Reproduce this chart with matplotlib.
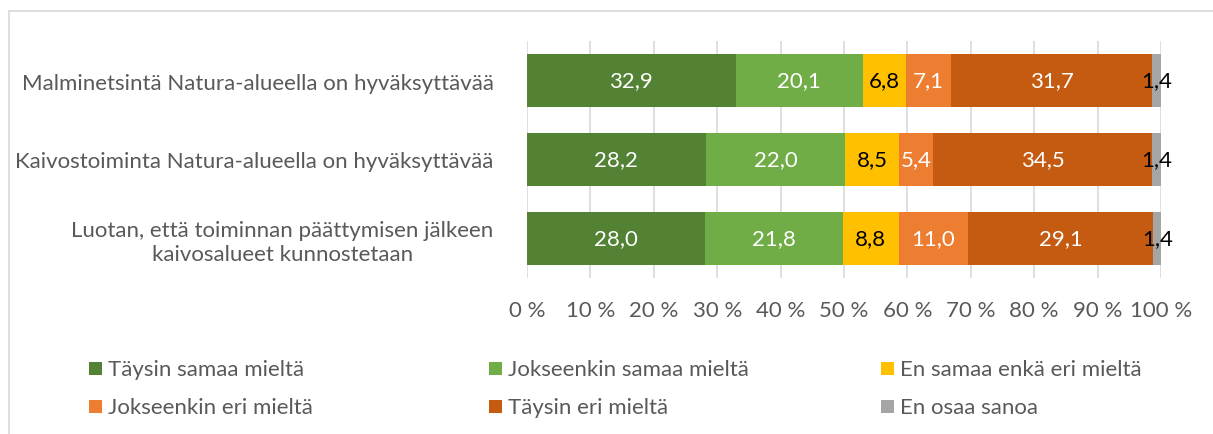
import numpy as np
import matplotlib.pyplot as plt
from matplotlib.patches import Rectangle

plt.rcParams['font.family'] = ['Lato', 'DejaVu Sans']

# statements (top to bottom)
categories = [
    'Malminetsintä Natura-alueella on hyväksyttävää',
    'Kaivostoiminta Natura-alueella on hyväksyttävää',
    'Luotan, että toiminnan päättymisen jälkeen\nkaivosalueet kunnostetaan',
]
series = [
    'Täysin samaa mieltä',
    'Jokseenkin samaa mieltä',
    'En samaa enkä eri mieltä',
    'Jokseenkin eri mieltä',
    'Täysin eri mieltä',
    'En osaa sanoa',
]
taysin_samaa = [32.9, 28.2, 28.0]
jokseenkin_samaa = [20.1, 22.0, 21.8]
ei_samaa_eika_eri = [6.8, 8.5, 8.8]
jokseenkin_eri = [7.1, 5.4, 11.0]
taysin_eri = [31.7, 34.5, 29.1]
en_osaa = [1.4, 1.4, 1.4]
values = [taysin_samaa, jokseenkin_samaa, ei_samaa_eika_eri,
          jokseenkin_eri, taysin_eri, en_osaa]
xticks = [0, 10, 20, 30, 40, 50, 60, 70, 80, 90, 100]

colors = ['#548235', '#70AD47', '#FFC000', '#ED7D31', '#C55A11', '#A5A5A5']
label_colors = ['white', 'white', 'black', 'white', 'white', 'black']
grey = '#595959'
fs = 16

W, H = 1213, 435
fig = plt.figure(figsize=(W / 100, H / 100), dpi=100)

def fx(px):
    return px / W

def fy(py):
    return 1 - py / H

ax = fig.add_axes([fx(527), fy(279), fx(1161) - fx(527), fy(42) - fy(279)])

y = np.arange(len(categories))
left = np.zeros(len(categories))
for vals, col, lcol in zip(values, colors, label_colors):
    vals = np.array(vals)
    ax.barh(y, vals, left=left, height=0.66, color=col, zorder=2)
    for yi, (l, v) in enumerate(zip(left, vals)):
        ax.text(l + v / 2, yi, f'{v:.1f}'.replace('.', ','), ha='center',
                va='center', color=lcol, fontsize=fs, zorder=3)
    left += vals

ax.set_xlim(0, 100)
ax.set_ylim(2.5, -0.5)
ax.set_xticks(xticks)
ax.set_xticklabels([f'{t} %' for t in xticks])
ax.set_yticks(y)
ax.set_yticklabels(categories, multialignment='center')
ax.tick_params(axis='x', length=0, pad=16, labelsize=fs, colors=grey)
ax.tick_params(axis='y', length=0, pad=24, labelsize=fs, colors=grey)
ax.grid(axis='x', color='#D9D9D9', lw=1.2, zorder=0)
ax.set_axisbelow(True)
for s in ax.spines.values():
    s.set_visible(False)

# chart border (left and top edges visible)
fig.add_artist(Rectangle((fx(9), -0.1), 1.2, fy(12) + 0.1, transform=fig.transFigure,
                         fill=False, edgecolor='#D9D9D9', lw=1.2))

# legend, laid out row-wise in three columns
col_x = [89, 489, 881]
row_y = [370, 408]
for i, (name, col) in enumerate(zip(series, colors)):
    cx = col_x[i % 3]
    ry = row_y[i // 3]
    fig.add_artist(Rectangle((fx(cx), fy(ry + 6)), fx(13), fy(ry - 7) - fy(ry + 6),
                             transform=fig.transFigure, color=col, lw=0))
    fig.text(fx(cx + 19), fy(ry), name, ha='left', va='center',
             fontsize=fs, color=grey)

fig.savefig('out.png', dpi=100)
